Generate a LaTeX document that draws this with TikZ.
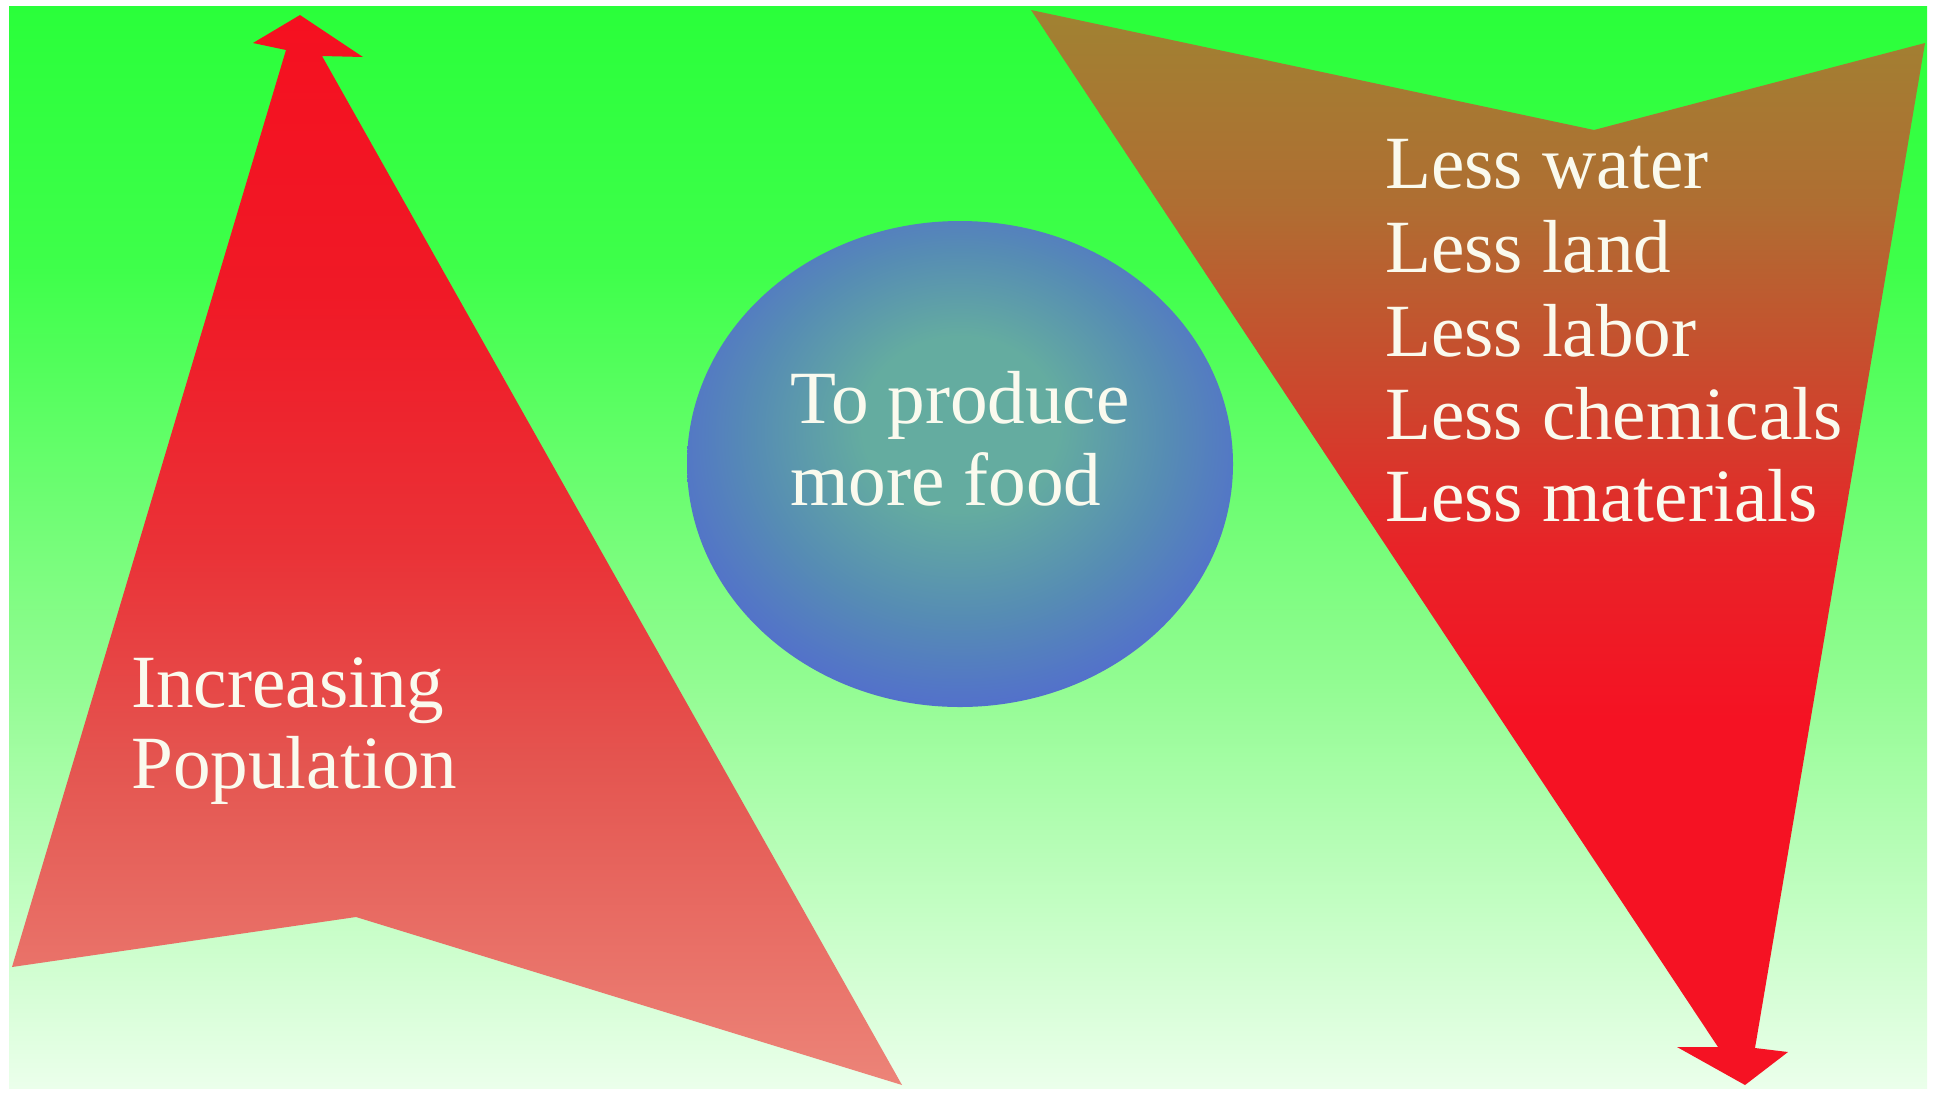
\documentclass[tikz,border=0pt]{standalone}
\usepackage{fontspec}
\setmainfont{Liberation Serif}

\definecolor{cream}{RGB}{250,250,238}
\definecolor{bgtop}{RGB}{42,255,58}
\definecolor{bghigh}{RGB}{62,255,74}
\definecolor{bglow}{RGB}{145,252,145}
\definecolor{bgbot}{RGB}{235,255,235}
\definecolor{uptop}{RGB}{245,16,32}
\definecolor{uphigh}{RGB}{240,25,38}
\definecolor{upmid}{RGB}{234,50,55}
\definecolor{uplow}{RGB}{228,85,80}
\definecolor{upbot}{RGB}{236,132,120}
\definecolor{downtop}{RGB}{160,130,50}
\definecolor{downhigh}{RGB}{175,110,50}
\definecolor{downmid}{RGB}{205,70,45}
\definecolor{downlow}{RGB}{232,35,40}
\definecolor{downbot}{RGB}{245,18,35}
\definecolor{foodin}{RGB}{100,172,160}
\definecolor{foodmid}{RGB}{86,140,180}
\definecolor{foodout}{RGB}{82,110,205}

\pgfdeclareverticalshading{meadow}{100bp}{color(0bp)=(bgbot); color(25bp)=(bgbot);
  color(44bp)=(bglow); color(63bp)=(bghigh); color(75bp)=(bgtop); color(100bp)=(bgtop)}
\pgfdeclareverticalshading{risingred}{100bp}{color(0bp)=(upbot); color(25bp)=(upbot);
  color(40bp)=(uplow); color(50bp)=(upmid); color(62bp)=(uphigh); color(75bp)=(uptop); color(100bp)=(uptop)}
\pgfdeclareverticalshading{fallingred}{100bp}{color(0bp)=(downbot); color(25bp)=(downbot);
  color(42bp)=(downbot); color(50bp)=(downlow); color(57bp)=(downmid); color(66bp)=(downhigh);
  color(75bp)=(downtop); color(100bp)=(downtop)}
\pgfdeclareradialshading{foodglow}{\pgfpoint{0bp}{5bp}}{color(0bp)=(foodin); color(9bp)=(foodin);
  color(19bp)=(foodmid); color(28bp)=(foodout); color(50bp)=(foodout)}

\begin{document}
\begin{tikzpicture}[x=0.02cm,y=-0.02cm,
    label text/.style={text=cream,font=\fontsize{42.8}{48}\selectfont,inner sep=0pt,anchor=base west}]
    \useasboundingbox (0,0) rectangle (1937,1093);
    \fill[white] (0,0) rectangle (1937,1093);

    % background
    \shade[shading=meadow] (9,6) rectangle (1927,1088);

    % rising arrow
    \shade[shading=risingred] (300,15) -- (363,57) -- (322,56) -- (902,1085) -- (356,917)
        -- (12,967) -- (286,50) -- (253,43) -- cycle;

    % falling arrow
    \shade[shading=fallingred] (1031,10) -- (1594,130) -- (1925,43) -- (1755,1048) -- (1788,1052)
        -- (1745,1085) -- (1677,1047) -- (1718,1047) -- cycle;

    % food circle
    \shade[shading=foodglow] (960,464) ellipse [x radius=273, y radius=243];

    \node[label text] (food1) at (790,423) {To produce};
    \node[label text] (food2) at (790,505) {more food};

    \node[label text] (pop1) at (131,707) {Increasing};
    \node[label text] (pop2) at (131,788) {Population};

    \node[label text] (less1) at (1385,188) {Less water};
    \node[label text] (less2) at (1385,272) {Less land};
    \node[label text] (less3) at (1385,356) {Less labor};
    \node[label text] (less4) at (1385,439) {Less chemicals};
    \node[label text] (less5) at (1385,521) {Less materials};
\end{tikzpicture}
\end{document}
